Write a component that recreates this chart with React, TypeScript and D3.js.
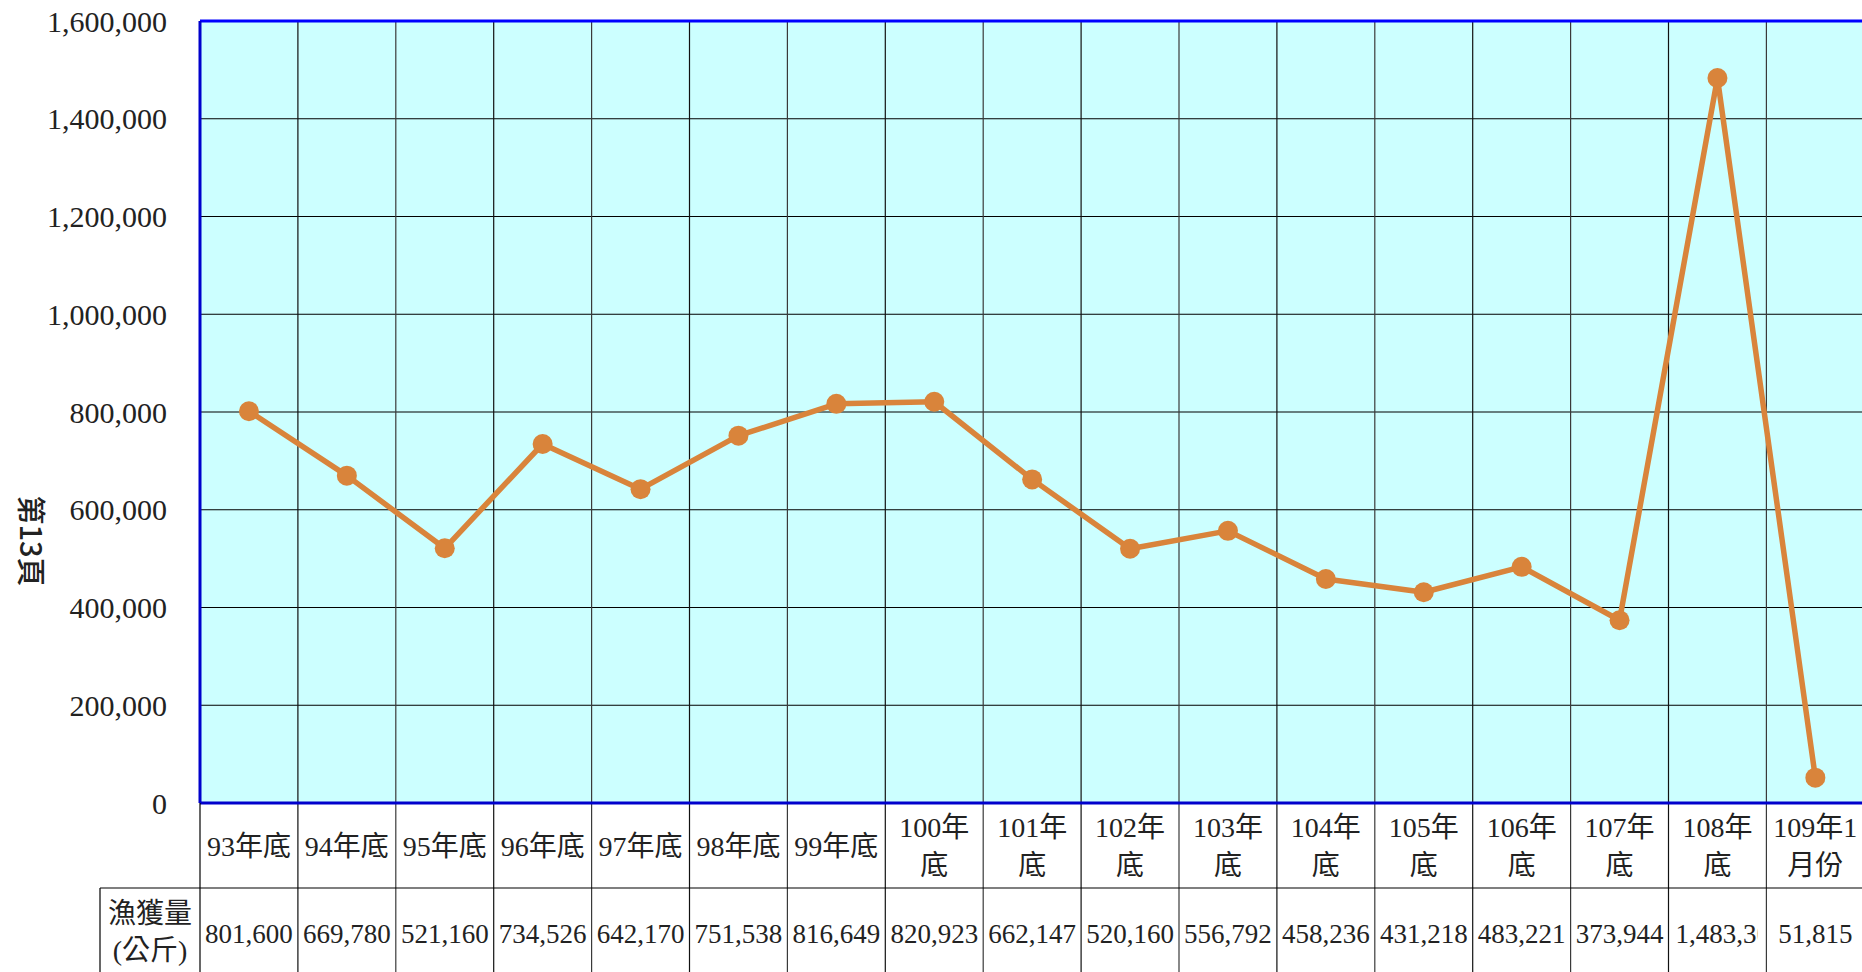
import { useMemo } from 'react';
import * as d3 from 'd3';

const categories = [
  '93年底', '94年底', '95年底', '96年底', '97年底', '98年底', '99年底',
  '100年\n底', '101年\n底', '102年\n底', '103年\n底', '104年\n底', '105年\n底',
  '106年\n底', '107年\n底', '108年\n底', '109年1\n月份',
];

const catch_kg = [
  801600, 669780, 521160, 734526, 642170, 751538, 816649, 820923, 662147,
  520160, 556792, 458236, 431218, 483221, 373944, 1483300, 51815,
];

const yTicks = [0, 200000, 400000, 600000, 800000, 1000000, 1200000, 1400000, 1600000];
const rowLabel = ['漁獲量', '(公斤)'];
const sideTitle = '第13頁';

const W = 1862;
const H = 972;
const plotLeft = 200;
const plotTop = 21;
const plotBottom = 803;
const colW = 97.9;
const catRowBottom = 888;
const FONT = '"Liberation Serif", "Noto Sans CJK TC", serif';

export default function App() {
  const xScale = useMemo(
    () =>
      d3
        .scaleBand<string>()
        .domain(categories)
        .range([plotLeft, plotLeft + colW * categories.length])
        .padding(0),
    []
  );
  const yScale = useMemo(
    () => d3.scaleLinear().domain([0, 1600000]).range([plotBottom, plotTop]),
    []
  );
  const fmt = d3.format(',');
  const cx = (i: number) => xScale(categories[i])! + xScale.bandwidth() / 2;

  const linePath = d3
    .line<number>()
    .x((_, i) => cx(i))
    .y((d) => yScale(d))(catch_kg);

  const right = plotLeft + colW * categories.length;

  return (
    <svg
      width={W}
      height={H}
      style={{ position: 'absolute', left: 0, top: 0, background: '#fff' }}
      fontFamily={FONT}
    >
      <defs>
        {categories.map((c, i) => (
          // too-long values get cut at the cell edge, like the spreadsheet table
          <clipPath id={`cell${i}`} key={c}>
            <rect x={xScale(c)! + 1} y={catRowBottom} width={88} height={H - catRowBottom} />
          </clipPath>
        ))}
      </defs>
      {/* plot area */}
      <rect x={plotLeft} y={plotTop} width={right - plotLeft} height={plotBottom - plotTop} fill="#ccffff" />
      {yTicks.map((t) => (
        <line key={t} x1={plotLeft} x2={right} y1={yScale(t)} y2={yScale(t)} stroke="#000" strokeWidth={1.2} />
      ))}
      {categories.map((c, i) => (
        <line
          key={c}
          x1={xScale(c)! + colW}
          x2={xScale(c)! + colW}
          y1={plotTop}
          y2={H}
          stroke={i % 2 ? '#3a3a3a' : '#111'}
          strokeWidth={1.2}
        />
      ))}
      <line x1={plotLeft} x2={right} y1={plotTop} y2={plotTop} stroke="#0000ff" strokeWidth={3} />
      <line x1={plotLeft} x2={right} y1={plotBottom} y2={plotBottom} stroke="#0000cc" strokeWidth={3} />
      <line x1={plotLeft} x2={plotLeft} y1={plotTop} y2={plotBottom} stroke="#0000cc" strokeWidth={3} />
      <line x1={plotLeft} x2={plotLeft} y1={plotBottom} y2={H} stroke="#000" strokeWidth={1.2} />

      {/* y axis labels */}
      {yTicks.map((t) => (
        <text key={t} x={167} y={yScale(t)} dy="0.35em" textAnchor="end" fontSize={30} fill="#222">
          {fmt(t)}
        </text>
      ))}
      <text
        transform={`translate(20,541) rotate(90)`}
        textAnchor="middle"
        fontSize={29}
        fontFamily='"Noto Sans CJK TC", sans-serif'
        fontWeight={500}
        fill="#222"
      >
        {sideTitle}
      </text>

      {/* line and markers */}
      <path d={linePath ?? ''} fill="none" stroke="#d9843b" strokeWidth={5.5} strokeLinejoin="round" />
      {catch_kg.map((v, i) => (
        <circle key={i} cx={cx(i)} cy={yScale(v)} r={10} fill="#d9843b" />
      ))}

      {/* data table */}
      <line x1={100} x2={right} y1={catRowBottom} y2={catRowBottom} stroke="#000" strokeWidth={1.2} />
      <line x1={100} x2={100} y1={catRowBottom} y2={H} stroke="#000" strokeWidth={1.2} />
      {categories.map((c, i) => {
        const lines = c.split('\n');
        const mid = (plotBottom + catRowBottom) / 2;
        return (
          <text key={c} x={cx(i)} textAnchor="middle" fontSize={28} fill="#222">
            {lines.map((l, j) => (
              <tspan key={j} x={cx(i)} y={mid + (j - (lines.length - 1) / 2) * 38} dy="0.36em">
                {l}
              </tspan>
            ))}
          </text>
        );
      })}
      {rowLabel.map((l, j) => (
        <text key={l} x={150} y={913 + j * 37} dy="0.36em" textAnchor="middle" fontSize={28} fill="#222">
          {l}
        </text>
      ))}
      {catch_kg.map((v, i) => {
        const s = fmt(v);
        const tooWide = s.length > 7;
        return (
          <text
            key={i}
            x={tooWide ? xScale(categories[i])! + 7 : cx(i)}
            y={933}
            dy="0.36em"
            textAnchor={tooWide ? 'start' : 'middle'}
            fontSize={27}
            fill="#222"
            clipPath={tooWide ? `url(#cell${i})` : undefined}
          >
            {s}
          </text>
        );
      })}
    </svg>
  );
}
